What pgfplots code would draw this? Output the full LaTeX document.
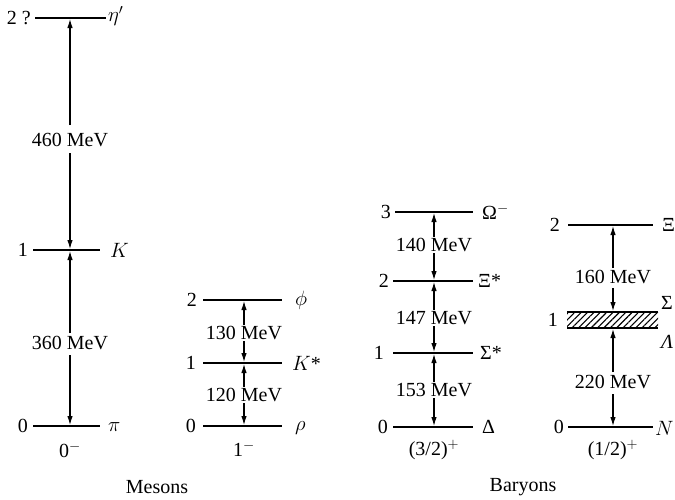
\documentclass[border=0pt]{standalone}
\usepackage{fontspec}
\setmainfont{Liberation Serif}
\usepackage{pgfplots}
\pgfplotsset{compat=1.18}
\usetikzlibrary{arrows.meta,patterns.meta}

\tikzset{
  lvl/.style={black, line width=1.8pt},
  arr/.style={black, line width=1.1pt, -{Latex[length=9pt,width=5.5pt]}},
  lab/.style={font=\fontsize{20}{22}\selectfont, inner sep=0pt},
}

\begin{document}
\begin{tikzpicture}
\begin{axis}[
  width=675pt, height=499pt, scale only axis,
  xmin=0, xmax=675, ymin=0, ymax=499, y dir=reverse,
  hide axis, clip=false,
]
% ---- mesons 0^-
\addplot[lvl] coordinates {(35,18) (106,18)};
\addplot[lvl] coordinates {(33,250) (100,250)};
\addplot[lvl] coordinates {(33,426) (100,426)};
\addplot[arr] coordinates {(70,125) (70,19)};
\addplot[arr] coordinates {(70,153) (70,249)};
\addplot[arr] coordinates {(70,333) (70,251)};
\addplot[arr] coordinates {(70,355) (70,425)};
\node[lab] at (70,140) {460 MeV};
\node[lab] at (70,343) {360 MeV};
\node[lab, anchor=east] at (31,18) {2 ?};
\node[lab, anchor=east] at (28,250) {1};
\node[lab, anchor=east] at (28,426) {0};
\node[lab, anchor=west] at (108,16) {$\eta'$};
\node[lab, anchor=west] at (110,250) {$K$};
\node[lab, anchor=west] at (108,427) {$\pi$};
\node[lab] at (70,450) {0$^-$};

% ---- mesons 1^-
\addplot[lvl] coordinates {(203,300) (282,300)};
\addplot[lvl] coordinates {(203,363) (282,363)};
\addplot[lvl] coordinates {(203,426) (282,426)};
\addplot[arr] coordinates {(244,325) (244,301)};
\addplot[arr] coordinates {(244,341) (244,362)};
\addplot[arr] coordinates {(244,387) (244,364)};
\addplot[arr] coordinates {(244,403) (244,425)};
\node[lab] at (244,333) {130 MeV};
\node[lab] at (244,395) {120 MeV};
\node[lab, anchor=east] at (197,300) {2};
\node[lab, anchor=east] at (196,363) {1};
\node[lab, anchor=east] at (196,426) {0};
\node[lab, anchor=west] at (295,300) {$\phi$};
\node[lab, anchor=west] at (292,363) {$K$*};
\node[lab, anchor=west] at (295,428) {$\rho$};
\node[lab] at (244,449) {1$^-$};
\node[lab] at (157,487) {Mesons};

% ---- baryons (3/2)^+
\addplot[lvl] coordinates {(395,212) (473,212)};
\addplot[lvl] coordinates {(393,281) (473,281)};
\addplot[lvl] coordinates {(393,353) (473,353)};
\addplot[lvl] coordinates {(393,427) (473,427)};
\addplot[arr] coordinates {(434,237) (434,213)};
\addplot[arr] coordinates {(434,253) (434,280)};
\addplot[arr] coordinates {(434,310) (434,282)};
\addplot[arr] coordinates {(434,326) (434,352)};
\addplot[arr] coordinates {(434,382) (434,354)};
\addplot[arr] coordinates {(434,398) (434,426)};
\node[lab] at (434,245) {140 MeV};
\node[lab] at (434,318) {147 MeV};
\node[lab] at (434,390) {153 MeV};
\node[lab, anchor=east] at (391,212) {3};
\node[lab, anchor=east] at (389,281) {2};
\node[lab, anchor=east] at (384,353) {1};
\node[lab, anchor=east] at (388,427) {0};
\node[lab, anchor=west] at (482,212) {Ω$^-$};
\node[lab, anchor=west] at (478,281) {Ξ*};
\node[lab, anchor=west] at (480,353) {Σ*};
\node[lab, anchor=west] at (482,427) {Δ};
\node[lab] at (434,450) {(3/2)$^+$};

% ---- baryons (1/2)^+
\addplot[draw=none, pattern={Lines[angle=45,distance=4.5pt,line width=1.1pt]}]
  coordinates {(567,312) (658,312) (658,328) (567,328) (567,312)};
\addplot[lvl] coordinates {(567,312) (658,312)};
\addplot[lvl] coordinates {(567,328) (658,328)};
\addplot[lvl] coordinates {(568,225) (653,225)};
\addplot[lvl] coordinates {(568,427) (653,427)};
\addplot[arr] coordinates {(613,268) (613,226)};
\addplot[arr] coordinates {(613,288) (613,311)};
\addplot[arr] coordinates {(613,372) (613,329)};
\addplot[arr] coordinates {(613,394) (613,426)};
\node[lab] at (613,277) {160 MeV};
\node[lab] at (613,382) {220 MeV};
\node[lab, anchor=east] at (560,225) {2};
\node[lab, anchor=east] at (558,320) {1};
\node[lab, anchor=east] at (564,427) {0};
\node[lab, anchor=west] at (662,225) {Ξ};
\node[lab, anchor=west] at (661,303) {Σ};
\node[lab, anchor=west] at (661,342) {\itshape Λ};
\node[lab, anchor=west] at (655,428) {$N$};
\node[lab] at (613,450) {(1/2)$^+$};
\node[lab] at (523,487) {Baryons};
\end{axis}
\pgfresetboundingbox
\useasboundingbox (current axis.south west) rectangle (current axis.north east);
\end{tikzpicture}
\end{document}
